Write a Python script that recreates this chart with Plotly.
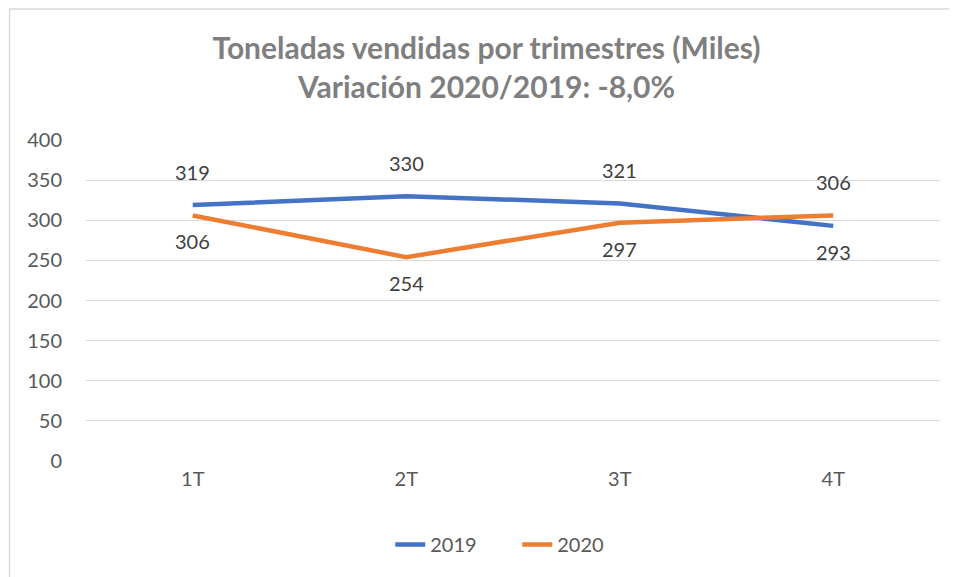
import plotly.graph_objects as go

categories = ["1T", "2T", "3T", "4T"]
values_2019 = [319, 330, 321, 293]
values_2020 = [306, 254, 297, 306]
label_pos_2019 = ["above", "above", "above", "below"]
label_pos_2020 = ["below", "below", "below", "above"]
y_ticks = [0, 50, 100, 150, 200, 250, 300, 350, 400]

FONT = "Lato"
fig = go.Figure()
fig.add_trace(go.Scatter(x=categories, y=values_2019, name="2019", mode="lines",
                         line=dict(color="#4472C4", width=4.5)))
fig.add_trace(go.Scatter(x=categories, y=values_2020, name="2020", mode="lines",
                         line=dict(color="#ED7D31", width=4.5)))

for vals, pos in ((values_2019, label_pos_2019), (values_2020, label_pos_2020)):
    for c, v, p in zip(categories, vals, pos):
        fig.add_annotation(x=c, y=v, text=str(v), showarrow=False,
                           yshift=33 if p == "above" else -26,
                           font=dict(family=FONT, size=20, color="#404040"))

fig.add_shape(type="rect", xref="paper", yref="paper", x0=-0.0895, x1=1.2, y0=-0.6, y1=1.408,
              line=dict(color="#d9d9d9", width=1.5), fillcolor="rgba(0,0,0,0)", layer="below")

fig.update_layout(
    width=957, height=577,
    margin=dict(l=78, r=25, t=132, b=124),
    paper_bgcolor="white", plot_bgcolor="white",
    title=dict(text="<b>Toneladas vendidas por trimestres (Miles)<br>Variación 2020/2019: -8,0%</b>",
               x=0.5, xanchor="center", y=0.912, yanchor="middle",
               font=dict(family=FONT, size=30, color="#7f7f7f")),
    xaxis=dict(showgrid=False, showline=False, zeroline=False, ticks="",
               tickfont=dict(family=FONT, size=20, color="#595959"),
               range=[-0.5, 3.5], ticklabelstandoff=4),
    yaxis=dict(range=[0, 400], tickvals=y_ticks, showgrid=True, gridcolor="#d9d9d9",
               gridwidth=1, zeroline=False, showline=False, ticks="",
               tickfont=dict(family=FONT, size=20, color="#595959"), ticklabelstandoff=23),
    legend=dict(orientation="h", x=0.505, xanchor="center", y=-0.26, yanchor="middle",
                entrywidth=82, entrywidthmode="pixels",
                font=dict(family=FONT, size=20, color="#595959")),
    showlegend=True,
)
fig.write_html("out.html")
